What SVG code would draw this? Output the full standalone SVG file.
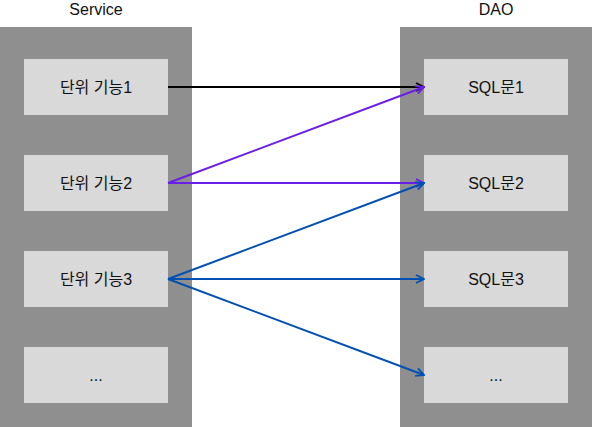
<svg xmlns="http://www.w3.org/2000/svg" width="592" height="427" viewBox="0 0 592 427">
<style>
.panel{fill:#8f8f8f}
.box{fill:#d9d9d9}
.t{font-family:"Liberation Sans","Noto Sans CJK KR",sans-serif;font-size:16px;fill:#111;text-anchor:middle;dominant-baseline:central}
.h{font-family:"Liberation Sans",sans-serif;font-size:16px;fill:#111;text-anchor:middle;dominant-baseline:central}
.c{fill:none;stroke-width:2}
</style>
<defs>
<marker id="ak" viewBox="0 0 10 10" refX="9" refY="5" markerWidth="10" markerHeight="10" orient="auto" markerUnits="userSpaceOnUse"><path d="M1,1 L9,5 L1,9" fill="none" stroke="#000" stroke-width="1.8"/></marker>
<marker id="ap" viewBox="0 0 10 10" refX="9" refY="5" markerWidth="10" markerHeight="10" orient="auto" markerUnits="userSpaceOnUse"><path d="M1,1 L9,5 L1,9" fill="none" stroke="#6a1fe8" stroke-width="1.8"/></marker>
<marker id="ab" viewBox="0 0 10 10" refX="9" refY="5" markerWidth="10" markerHeight="10" orient="auto" markerUnits="userSpaceOnUse"><path d="M1,1 L9,5 L1,9" fill="none" stroke="#0050b4" stroke-width="1.8"/></marker>
</defs>
<text class="h" x="96" y="9">Service</text>
<text class="h" x="496" y="9">DAO</text>
<g id="service"><rect class="panel" x="0" y="27" width="192" height="400"/></g>
<g id="dao"><rect class="panel" x="400" y="27" width="192" height="400"/></g>
<g id="s1"><rect class="box" x="24" y="59" width="144" height="56"/><text class="t" x="96" y="87">단위 기능1</text></g>
<g id="s2"><rect class="box" x="24" y="155" width="144" height="56"/><text class="t" x="96" y="183">단위 기능2</text></g>
<g id="s3"><rect class="box" x="24" y="251" width="144" height="56"/><text class="t" x="96" y="279">단위 기능3</text></g>
<g id="s4"><rect class="box" x="24" y="347" width="144" height="56"/><text class="t" x="96" y="375">...</text></g>
<g id="d1"><rect class="box" x="424" y="59" width="144" height="56"/><text class="t" x="496" y="87">SQL문1</text></g>
<g id="d2"><rect class="box" x="424" y="155" width="144" height="56"/><text class="t" x="496" y="183">SQL문2</text></g>
<g id="d3"><rect class="box" x="424" y="251" width="144" height="56"/><text class="t" x="496" y="279">SQL문3</text></g>
<g id="d4"><rect class="box" x="424" y="347" width="144" height="56"/><text class="t" x="496" y="375">...</text></g>
<g id="connectors">
<line class="c" x1="168" y1="87" x2="424" y2="87" stroke="#000" marker-end="url(#ak)"/>
<line class="c" x1="168" y1="183" x2="424" y2="87" stroke="#6a1fe8" marker-end="url(#ap)"/>
<line class="c" x1="168" y1="183" x2="424" y2="183" stroke="#6a1fe8" marker-end="url(#ap)"/>
<line class="c" x1="168" y1="279" x2="424" y2="183" stroke="#0050b4" marker-end="url(#ab)"/>
<line class="c" x1="168" y1="279" x2="424" y2="279" stroke="#0050b4" marker-end="url(#ab)"/>
<line class="c" x1="168" y1="279" x2="424" y2="375" stroke="#0050b4" marker-end="url(#ab)"/>
</g>
</svg>
